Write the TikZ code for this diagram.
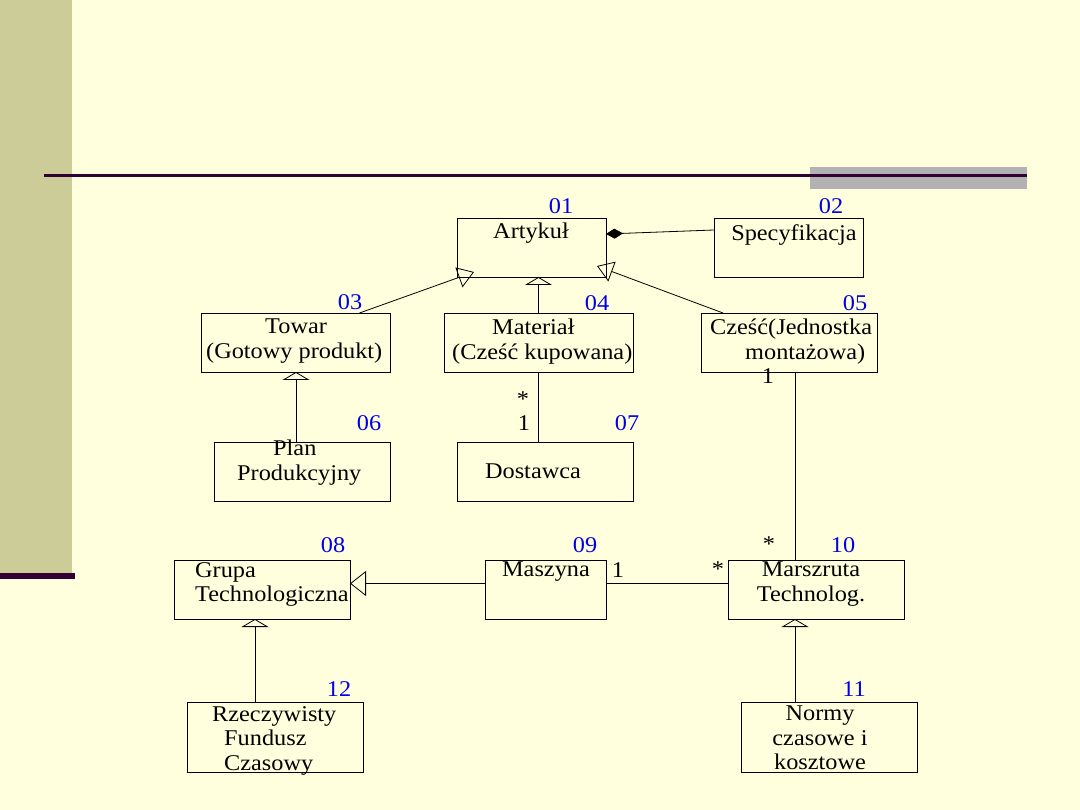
\documentclass[tikz,border=0pt]{standalone}
\usepackage{fontspec}
\setmainfont{Liberation Serif}[FakeStretch=1.08]
\usetikzlibrary{arrows.meta,calc}
\definecolor{bgc}{HTML}{FFFFDD}
\definecolor{stripc}{HTML}{CCCC99}
\definecolor{darkc}{HTML}{330033}
\definecolor{grayc}{HTML}{B2B2B2}
\definecolor{numblue}{HTML}{0000E6}
\begin{document}
\begin{tikzpicture}[x=1pt,y=-1pt,
  box/.style={draw=black,line width=0.8pt,anchor=north west,inner sep=0,outer sep=0},
  txt/.style={font=\fontsize{22.5}{24.5}\selectfont,inner sep=0,text=black},
  num/.style={font=\fontsize{22.5}{24.5}\selectfont,inner sep=0,text=numblue,anchor=north},
  mult/.style={font=\fontsize{22.5}{24.5}\selectfont,inner sep=0,text=black,anchor=north},
  conn/.style={draw=black,line width=0.8pt},
  genv/.style={conn,-{Triangle[open,length=8,width=27]}},
  genh/.style={conn,-{Triangle[open,length=16,width=25]}},
  gend/.style={conn,-{Triangle[open,length=16,width=21]}},
  comp/.style={conn,-{Diamond[fill=black,length=17,width=10]}}
]
\useasboundingbox (0,0) rectangle (1080,810);
% background and slide decoration
\fill[bgc] (0,0) rectangle (1080,810);
\fill[stripc] (0,0) rectangle (72,575);
\fill[darkc] (0,573) rectangle (75,579);
\fill[grayc] (810,167) rectangle (1027,189);
\fill[darkc] (44,174.5) rectangle (1027,177.5);

% boxes
\node[box,minimum width=149,minimum height=59] (a01) at (457,218) {};
\node[box,minimum width=149,minimum height=59] (a02) at (714,218) {};
\node[box,minimum width=189,minimum height=59] (a03) at (201,313) {};
\node[box,minimum width=189,minimum height=59] (a04) at (444,313) {};
\node[box,minimum width=176,minimum height=59] (a05) at (701,313) {};
\node[box,minimum width=176,minimum height=59] (a06) at (214,442) {};
\node[box,minimum width=176,minimum height=59] (a07) at (457,442) {};
\node[box,minimum width=176,minimum height=59] (a08) at (174,560) {};
\node[box,minimum width=121,minimum height=59] (a09) at (485,560) {};
\node[box,minimum width=176,minimum height=59] (a10) at (728,560) {};
\node[box,minimum width=176,minimum height=70] (a11) at (741,702) {};
\node[box,minimum width=176,minimum height=70] (a12) at (187,702) {};

% box texts
\node[txt,anchor=north] (t01) at (531,223) {Artykuł};
\node[txt,anchor=north] (t02) at (794,224) {Specyfikacja};
\node[txt,anchor=north west,align=left] (t03) at (206,319) {\hspace*{59pt}Towar\\(Gotowy produkt)};
\node[txt,anchor=north west,align=left] (t04) at (452,319) {\hspace*{40pt}Materiał\\(Cześć kupowana)};
\node[txt,anchor=north west,align=left] (t05) at (710,319) {Cześć(Jednostka\\\hspace*{35pt}montażowa)};
\node[txt,anchor=north west,align=left] (t06) at (237,440) {\hspace*{36pt}Plan\\Produkcyjny};
\node[txt,anchor=north] (t07) at (533,464) {Dostawca};
\node[txt,anchor=north west,align=left] (t08) at (195,562) {Grupa\\Technologiczna};
\node[txt,anchor=north] (t09) at (546,562) {Maszyna};
\node[txt,anchor=north,align=center] (t10) at (811,562) {Marszruta\\Technolog.};
\node[txt,anchor=north,align=center] (t11) at (820,706) {Normy\\czasowe i\\kosztowe};
\node[txt,anchor=north west,align=left] (t12) at (212,706) {Rzeczywisty\\\hspace*{12pt}Fundusz\\\hspace*{12pt}Czasowy};

% numbers
\node[num] (n01) at (561,198) {01};
\node[num] (n02) at (831,198) {02};
\node[num] (n03) at (350,294) {03};
\node[num] (n04) at (597,295) {04};
\node[num] (n05) at (855,295) {05};
\node[num] (n06) at (369,415) {06};
\node[num] (n07) at (627,415) {07};
\node[num] (n08) at (333,537) {08};
\node[num] (n09) at (585,537) {09};
\node[num] (n10) at (843,537) {10};
\node[num] (n11) at (854,681) {11};
\node[num] (n12) at (339,681) {12};

% multiplicities
\node[mult] (m1) at (523,392) {*};
\node[mult] (m2) at (524,415) {1};
\node[mult] (m3) at (768,368) {1};
\node[mult] (m4) at (769,537) {*};
\node[mult] (m5) at (618,562) {1};
\node[mult] (m6) at (718,562) {*};

% connector anchor points
\coordinate (s02) at ([yshift=-12]a02.north west);
\coordinate (e01c) at ([yshift=-16]a01.north east);
\coordinate (s03) at ([xshift=64]a03.north);
\coordinate (e01l) at ([xshift=17,yshift=5]a01.south west);
\coordinate (s05) at ([xshift=-66]a05.north);
\coordinate (e01r) at ([xshift=-9,yshift=11]a01.south east);
\coordinate (p06) at ([xshift=-6]a06.north);
\coordinate (p05) at ([xshift=6]a05.south);
\coordinate (p09l) at ([yshift=6]a09.west);
\coordinate (p09r) at ([yshift=6]a09.east);
\coordinate (p12) at ([xshift=-20]a12.north);
\coordinate (p11) at ([xshift=-34]a11.north);

% connectors
\draw[comp] (s02) -- (e01c);
\draw[gend] (s03) -- (e01l);
\draw[gend] (s05) -- (e01r);
\draw[genv] (a04.north) -- (a04.north |- a01.south);
\draw[conn] (a04.south) -- (a04.south |- a07.north);
\draw[conn] (p05) -- (p05 |- a10.north);
\draw[genv] (p06) -- (p06 |- a03.south);
\draw[genh] (p09l) -- (p09l -| a08.east);
\draw[conn] (p09r) -- (p09r -| a10.west);
\draw[genv] (p12) -- (p12 |- a08.south);
\draw[genv] (p11) -- (p11 |- a10.south);
\end{tikzpicture}
\end{document}
